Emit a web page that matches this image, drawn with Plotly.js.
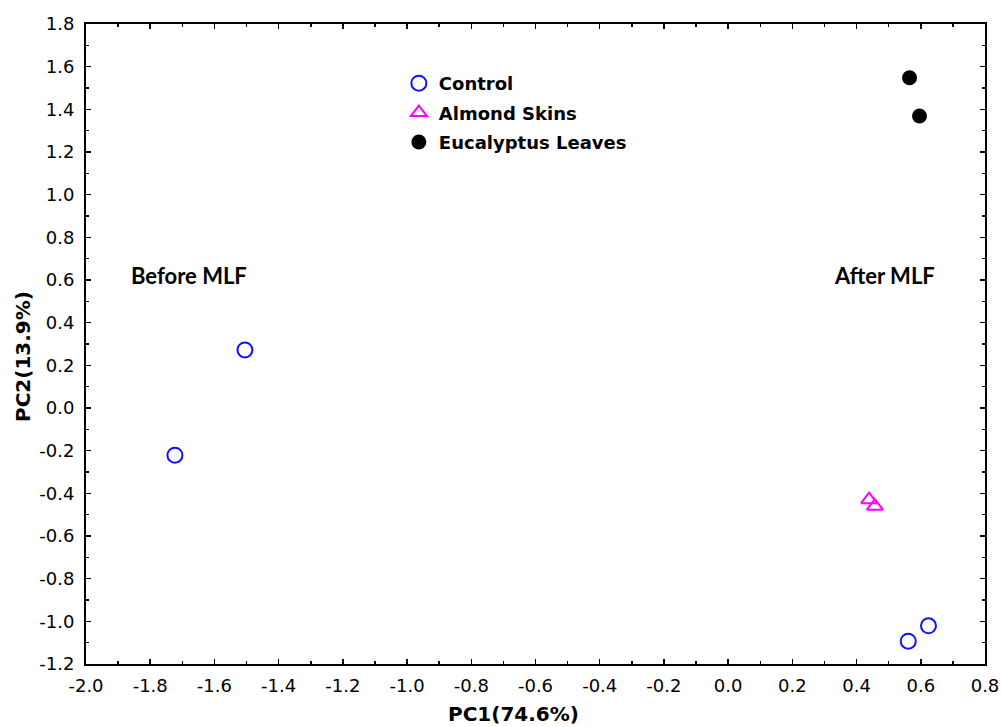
<!DOCTYPE html>
<html>
<head>
<meta charset="utf-8">
<script src="https://cdn.plot.ly/plotly-3.0.1.min.js"></script>
<style>html,body{margin:0;padding:0;background:#fff;}#chart{width:1001px;height:727px;}</style>
</head>
<body>
<div id="chart"></div>
<script>
const controlX = [-1.505, -1.723, 0.561, 0.624];
const controlY = [0.272, -0.221, -1.093, -1.021];
const almondX = [0.439, 0.457];
const almondY = [-0.430, -0.460];
const eucX = [0.565, 0.596];
const eucY = [1.548, 1.369];
const seriesNames = ["Control", "Almond Skins", "Eucalyptus Leaves"];
const groupLabels = ["Before MLF", "After MLF"];
const groupLabelX = [-1.679, 0.486];
const groupLabelY = [0.623, 0.623];
const xTitle = "PC1(74.6%)";
const yTitle = "PC2(13.9%)";
const xTickVals = [-2.0, -1.8, -1.6, -1.4, -1.2, -1.0, -0.8, -0.6, -0.4, -0.2, 0.0, 0.2, 0.4, 0.6, 0.8];
const xTickText = ["-2.0", "-1.8", "-1.6", "-1.4", "-1.2", "-1.0", "-0.8", "-0.6", "-0.4", "-0.2", "0.0", "0.2", "0.4", "0.6", "0.8"];
const yTickVals = [-1.2, -1.0, -0.8, -0.6, -0.4, -0.2, 0.0, 0.2, 0.4, 0.6, 0.8, 1.0, 1.2, 1.4, 1.6, 1.8];
const yTickText = ["-1.2", "-1.0", "-0.8", "-0.6", "-0.4", "-0.2", "0.0", "0.2", "0.4", "0.6", "0.8", "1.0", "1.2", "1.4", "1.6", "1.8"];

const FONT = 'DejaVu Sans, sans-serif';

const traces = [
  {x: controlX, y: controlY, name: seriesNames[0], mode: 'markers', type: 'scatter', legendgroup: 'a',
   marker: {symbol: 'circle-open', size: 15, color: '#1010ff', line: {width: 2, color: '#1010ff'}}},
  {x: almondX, y: almondY, name: seriesNames[1], mode: 'markers', type: 'scatter', legendgroup: 'b',
   marker: {symbol: 'triangle-up-open', size: 14, color: '#ff00ff', line: {width: 2, color: '#ff00ff'}}},
  {x: eucX, y: eucY, name: seriesNames[2], mode: 'markers', type: 'scatter', legendgroup: 'c',
   marker: {symbol: 'circle', size: 15, color: '#000000'}}
];

const axisCommon = {
  showgrid: false, zeroline: false, showline: true, linecolor: '#000', linewidth: 2,
  mirror: 'ticks', ticks: 'inside', ticklen: 5, tickwidth: 1.5, tickcolor: '#000',
  tickfont: {family: FONT, size: 18, color: '#000'}, tickmode: 'array',
  minor: {ticks: 'inside', ticklen: 3, tickwidth: 1.5, tickcolor: '#000', tickmode: 'linear', tick0: 0, dtick: 0.1}
};

const layout = {
  width: 1001, height: 727,
  margin: {l: 86, r: 16, t: 24, b: 63},
  paper_bgcolor: '#fff', plot_bgcolor: '#fff',
  showlegend: true,
  legend: {x: 0.348, y: 0.936, xanchor: 'left', yanchor: 'top', bgcolor: 'rgba(0,0,0,0)',
    font: {family: FONT, size: 18, color: '#000', weight: 'bold'},
    tracegroupgap: 3, itemwidth: 30},
  xaxis: Object.assign({}, axisCommon, {
    range: [-2.0, 0.8], tickvals: xTickVals, ticktext: xTickText, ticklabelstandoff: 4
  }),
  yaxis: Object.assign({}, axisCommon, {
    range: [-1.2, 1.8], tickvals: yTickVals, ticktext: yTickText, ticklabelstandoff: 6
  }),
  annotations: groupLabels.map((t, i) => ({
    x: groupLabelX[i], y: groupLabelY[i], xref: 'x', yref: 'y', text: '<b>' + t + '</b>',
    showarrow: false, font: {family: 'Lato, Open Sans, sans-serif', size: 22, color: '#000'}
  })).concat([
    {x: (513 - 86) / 899, y: 0, xref: 'paper', yref: 'paper', xanchor: 'center', yanchor: 'middle',
     yshift: -(714 - 664), text: '<b>' + xTitle + '</b>', showarrow: false,
     font: {family: FONT, size: 20, color: '#000'}},
    {x: 0, y: (664 - 357) / 640, xref: 'paper', yref: 'paper', xanchor: 'center', yanchor: 'middle',
     xshift: -(86 - 23), text: '<b>' + yTitle + '</b>', textangle: -90, showarrow: false,
     font: {family: FONT, size: 20, color: '#000'}}
  ])
};

Plotly.newPlot('chart', traces, layout, {displayModeBar: false, staticPlot: true});
</script>
</body>
</html>
